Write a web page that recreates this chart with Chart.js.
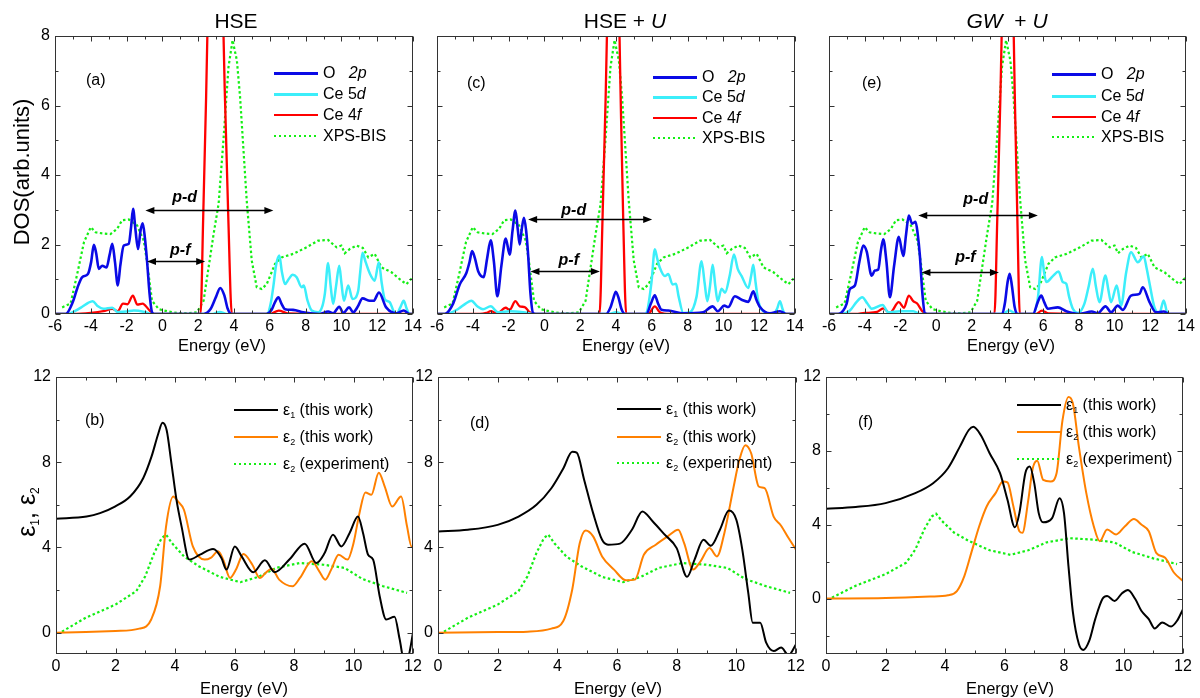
<!DOCTYPE html>
<html lang="en">
<head>
<meta charset="UTF-8">
<title>CeO2: DOS and dielectric function</title>
<script src="https://cdn.jsdelivr.net/npm/chart.js"></script>
<style>
    body { margin: 0; background: #fff; font-family: "Liberation Sans", Arial, sans-serif; }
    #fig { position: relative; width: 1200px; height: 698px; overflow: hidden; }
    #fig canvas { position: absolute; left: 0; top: 0; }
    .t { position: absolute; white-space: nowrap; color: #000; line-height: 1; z-index: 2; }
    .c { transform: translateX(-50%); }
    .rot { transform: translate(-50%, -50%) rotate(-90deg); }
    .lg { position: absolute; height: 18px; line-height: 18px; font-size: 16px; white-space: nowrap; z-index: 2; }
    .lg span.s { position: absolute; left: 0; top: 8px; width: 44px; }
    .lg span.x { position: absolute; left: 49px; top: 0; }
    sub { font-size: 9px; vertical-align: -3px; }
    .big sub { font-size: 12px; vertical-align: -4px; }
</style>
</head>
<body>
<div id="fig">
    <canvas id="pa" width="1200" height="698"></canvas>
    <canvas id="pc" width="1200" height="698"></canvas>
    <canvas id="pe" width="1200" height="698"></canvas>
    <canvas id="pb" width="1200" height="698"></canvas>
    <canvas id="pd" width="1200" height="698"></canvas>
    <canvas id="pf" width="1200" height="698"></canvas>

    <div class="t c" style="left:236px;top:10px;font-size:21px">HSE</div>
    <div class="t c" style="left:625px;top:10px;font-size:21px">HSE + <i>U</i></div>
    <div class="t c" style="left:1007px;top:10px;font-size:21px"><i>GW</i>&nbsp; + <i>U</i></div>

    <div class="t rot" style="left:22px;top:172px;font-size:22px">DOS(arb.units)</div>
    <div class="t rot big" style="left:27px;top:512px;font-size:25px">ε<sub>1</sub>, ε<sub>2</sub></div>

    <div class="t c" style="left:222px;top:337px;font-size:16.5px">Energy (eV)</div>
    <div class="t c" style="left:626px;top:337px;font-size:16.5px">Energy (eV)</div>
    <div class="t c" style="left:1011px;top:337px;font-size:16.5px">Energy (eV)</div>
    <div class="t c" style="left:244px;top:680px;font-size:16.5px">Energy (eV)</div>
    <div class="t c" style="left:618px;top:680px;font-size:16.5px">Energy (eV)</div>
    <div class="t c" style="left:1010px;top:680px;font-size:16.5px">Energy (eV)</div>

    <div class="t" style="left:86px;top:72px;font-size:16px">(a)</div>
    <div class="t" style="left:467px;top:75px;font-size:16px">(c)</div>
    <div class="t" style="left:862px;top:75px;font-size:16px">(e)</div>
    <div class="t" style="left:85px;top:412px;font-size:16px">(b)</div>
    <div class="t" style="left:470px;top:415px;font-size:16px">(d)</div>
    <div class="t" style="left:858px;top:414px;font-size:16px">(f)</div>
</div>

<script>
    const W = 1200, H = 698, YW = 40, XH = 30;
    const FONT = '"Liberation Sans", Arial, sans-serif';
    const COL = { o2p: '#0a0ae6', ce5d: '#3ceefa', ce4f: '#ff0000', xps: '#14ee14',
                  eps1: '#000000', eps2: '#ff8000', exp: '#14ee14' };

    // tick labels
    const xTicksDos = [-6, -4, -2, 0, 2, 4, 6, 8, 10, 12, 14];
    const yTicksDos = [0, 2, 4, 6, 8];
    const xTicksEps = [0, 2, 4, 6, 8, 10, 12];
    const yTicksEps = [0, 4, 8, 12];

    // experiment, same in all three panels of a row
    const xpsBis = [[-5.6,0.19],[-5.13,0.3],[-4.76,1.15],[-4.38,2.07],[-4.0,2.5],[-3.73,2.35],[-3.36,2.32],[-2.9,2.3],
        [-2.53,2.45],[-2.25,2.7],[-1.88,2.72],[-1.41,2.55],[-1.04,2.11],[-0.86,1.5],[-0.58,0.38],[-0.2,0.14],[0.26,0.08],
        [0.8,0.03],[1.37,0.02],[1.93,0.05],[2.3,0.38],[2.58,1.34],[2.86,2.3],[3.14,3.17],[3.41,5.0],[3.69,7.1],[3.92,7.88],
        [4.16,7.3],[4.34,6.24],[4.71,3.27],[4.99,1.54],[5.27,0.77],[5.55,0.72],[5.83,0.86],[6.29,1.44],[6.66,1.63],
        [7.31,1.73],[8.06,1.92],[8.7,2.11],[9.26,2.13],[9.73,1.92],[10.0,1.97],[10.19,1.75],[10.47,1.87],[10.84,1.97],
        [11.2,1.9],[11.5,1.63],[11.86,1.73],[12.24,1.34],[12.8,1.2],[13.26,1.0],[13.63,0.86],[14.0,1.06]];
    const eps2Exp = [[0.2,0.05],[1,0.7],[2,1.32],[2.7,1.95],[3.0,2.65],[3.3,3.74],[3.55,4.44],[3.7,4.6],[3.9,4.2],
        [4.3,3.58],[4.8,3.12],[5.5,2.62],[6.2,2.37],[6.8,2.62],[7.4,3.04],[8.2,3.27],[9.0,3.19],[9.7,3.04],[10.3,2.52],
        [11.0,2.18],[11.8,1.87]];

    // (a) HSE
    const aO2p = [[-6,0],[-5.4,0],[-5.0,0.35],[-4.75,0.75],[-4.48,1.06],[-4.16,1.15],[-3.98,1.5],[-3.83,1.99],[-3.7,1.75],
        [-3.55,1.3],[-3.36,1.39],[-3.12,1.34],[-2.95,1.7],[-2.8,2.02],[-2.65,1.5],[-2.49,0.82],[-2.35,1.4],[-2.16,1.97],
        [-1.88,2.02],[-1.75,2.5],[-1.64,3.03],[-1.5,2.4],[-1.36,1.87],[-1.22,2.4],[-1.1,2.61],[-0.98,2.2],[-0.86,1.54],
        [-0.72,0.6],[-0.58,0.05],[-0.45,0],[2.3,0],[2.7,0.15],[3.0,0.5],[3.23,0.75],[3.45,0.55],[3.65,0.15],[3.85,0],
        [5.8,0],[6.1,0.12],[6.3,0.35],[6.48,0.48],[6.65,0.3],[6.85,0.14],[7.3,0.12],[7.87,0.05],[8.4,0.01],[8.8,0],
        [9.26,0.07],[9.54,0.02],[9.88,0.21],[10.1,0.03],[10.43,0.19],[10.66,0.05],[10.9,0.2],[11.18,0.45],[11.59,0.38],
        [11.8,0.38],[12.1,0.62],[12.5,0.19],[13.07,0.02],[13.48,0.1],[13.8,0],[14,0]];
    const aCe5d = [[-6,0],[-5.3,0],[-4.9,0.08],[-4.5,0.2],[-4.15,0.32],[-3.9,0.37],[-3.6,0.22],[-3.3,0.15],[-2.8,0.18],
        [-2.5,0.06],[-2.0,0.07],[-1.6,0.1],[-1.0,0.06],[-0.6,0],[2.8,0],[3.2,0.06],[3.6,0],[5.85,0],[6.05,0.3],[6.2,0.8],
        [6.35,1.4],[6.53,1.68],[6.68,1.2],[6.85,0.86],[7.05,1.0],[7.28,1.13],[7.5,1.06],[7.78,0.77],[7.9,0.82],[8.1,0.4],
        [8.34,0.1],[8.7,0.05],[8.95,0.25],[9.08,0.6],[9.26,1.47],[9.4,0.8],[9.54,0.29],[9.7,0.8],[9.88,1.39],[10.0,0.9],
        [10.14,0.38],[10.38,0.82],[10.62,0.43],[10.94,0.67],[11.05,1.2],[11.18,1.76],[11.35,1.5],[11.6,1.15],[11.86,0.96],
        [12.09,1.49],[12.25,0.9],[12.42,0.43],[12.7,0.34],[12.9,0.1],[13.07,0],[13.3,0.2],[13.48,0.38],[13.65,0.15],
        [13.8,0],[14,0]];
    const aCe4f = [[-6,0],[-5,0],[-4,0.03],[-3.3,0.08],[-2.8,0.15],[-2.5,0.08],[-2.2,0.3],[-1.95,0.28],[-1.65,0.53],
        [-1.4,0.27],[-1.1,0.3],[-0.8,0.15],[-0.5,0],[2.13,0],[2.28,2.8],[2.44,6.2],[2.62,10.5],[2.98,13],[3.3,10.5],
        [3.48,6.5],[3.68,2.8],[3.88,0],[6.0,0],[6.5,0.1],[7.0,0.02],[14,0]];

    // (c) HSE + U
    const cO2p = [[-6,0],[-5.57,0],[-5.1,0.3],[-4.73,0.85],[-4.36,1.18],[-4.18,1.5],[-4.04,1.81],[-3.88,1.6],[-3.7,1.23],
        [-3.39,1.06],[-3.2,1.6],[-3.0,2.12],[-2.82,1.5],[-2.63,0.51],[-2.4,1.4],[-2.16,2.17],[-1.94,1.71],[-1.78,2.4],
        [-1.62,2.98],[-1.48,2.4],[-1.38,2.0],[-1.25,2.5],[-1.14,2.77],[-1.02,2.4],[-0.91,1.71],[-0.78,0.6],[-0.63,0.02],
        [-0.5,0],[3.45,0],[3.7,0.2],[3.85,0.45],[3.99,0.64],[4.15,0.45],[4.3,0.15],[4.5,0],[5.7,0],[5.95,0.3],[6.17,0.54],
        [6.35,0.3],[6.54,0.12],[6.92,0.1],[7.76,0.02],[8.87,0.05],[9.4,0.22],[9.68,0.08],[10.05,0.24],[10.27,0.2],
        [10.64,0.51],[11.02,0.41],[11.39,0.35],[11.67,0.65],[11.85,0.4],[12.04,0.2],[12.6,0.02],[13.16,0.08],[13.53,0],[14,0]];
    const cCe5d = [[-6,0],[-5.5,0],[-4.8,0.15],[-4.4,0.3],[-4.08,0.38],[-3.75,0.22],[-3.43,0.14],[-3.0,0.22],[-2.6,0.05],
        [-1.94,0.08],[-1.19,0.05],[-0.6,0],[3.6,0],[4.0,0.05],[4.4,0],[5.6,0],[5.75,0.1],[5.98,0.9],[6.17,1.86],[6.3,1.6],
        [6.45,1.33],[6.73,1.09],[6.92,1.15],[7.16,0.85],[7.35,0.87],[7.5,0.5],[7.76,0.03],[8.13,0.05],[8.5,0.5],[8.78,1.52],
        [8.95,0.9],[9.1,0.37],[9.25,0.8],[9.4,1.42],[9.55,0.8],[9.68,0.37],[9.9,0.73],[10.09,0.61],[10.35,1.1],[10.59,1.71],
        [10.8,1.3],[11.02,1.09],[11.39,0.75],[11.55,1.1],[11.67,1.42],[11.8,0.9],[11.95,0.37],[12.32,0.05],[12.79,0],
        [13.0,0.15],[13.16,0.37],[13.3,0.15],[13.44,0],[14,0]];
    const cCe4f = [[-6,0],[-3.6,0],[-3.24,0.03],[-3.0,0.08],[-2.63,0.02],[-2.16,0.18],[-1.94,0.12],[-1.62,0.37],
        [-1.38,0.22],[-1.1,0.2],[-0.82,0.05],[-0.6,0],[3.08,0],[3.25,2.8],[3.42,6.2],[3.6,10.5],[3.85,13],[4.1,10.5],
        [4.25,6.5],[4.4,2.8],[4.57,0],[5.8,0],[6.17,0.22],[6.45,0.05],[7,0],[14,0]];

    // (e) GW + U
    const eO2p = [[-6,0],[-5.48,0],[-5.2,0.1],[-5.01,0.3],[-4.83,0.72],[-4.55,0.82],[-4.3,1.5],[-4.08,1.97],[-3.89,1.8],
        [-3.61,1.1],[-3.43,1.25],[-3.24,1.28],[-3.1,1.8],[-2.96,2.15],[-2.78,1.5],[-2.59,0.48],[-2.35,1.4],[-2.09,2.22],
        [-1.84,1.67],[-1.68,2.3],[-1.53,2.83],[-1.34,2.6],[-1.15,2.65],[-1.03,2.3],[-0.91,1.69],[-0.77,0.6],[-0.63,0.02],
        [-0.5,0],[3.7,0],[3.85,0.3],[4.0,0.9],[4.12,1.16],[4.25,0.8],[4.4,0.2],[4.55,0],[5.43,0],[5.7,0.35],[5.89,0.53],
        [6.05,0.35],[6.26,0.15],[6.82,0.19],[7.29,0.08],[8.03,0],[8.72,0.07],[9.06,0.02],[9.49,0.22],[9.8,0.05],
        [10.18,0.24],[10.46,0.12],[10.92,0.53],[11.39,0.58],[11.58,0.77],[11.95,0.35],[12.32,0.05],[12.75,0.07],[13.07,0],[14,0]];
    const eCe5d = [[-6,0],[-5.29,0],[-4.83,0.1],[-4.45,0.35],[-4.14,0.48],[-3.85,0.3],[-3.61,0.15],[-3.0,0.26],
        [-2.68,0.05],[-2.03,0.08],[-1.28,0.08],[-0.91,0],[3.7,0],[4.1,0.1],[4.5,0],[5.43,0],[5.71,0.5],[5.93,1.64],
        [6.05,1.2],[6.17,0.92],[6.54,1.09],[6.86,1.22],[7.1,0.92],[7.29,0.87],[7.45,0.5],[7.66,0.15],[7.94,0.03],[8.31,0.3],
        [8.55,0.8],[8.78,1.3],[8.95,0.8],[9.15,0.34],[9.49,1.11],[9.65,0.7],[9.8,0.34],[10.12,0.82],[10.36,0.24],[10.65,1.2],
        [10.92,1.78],[11.3,1.49],[11.63,1.66],[11.8,1.3],[11.95,0.9],[12.23,0.2],[12.51,0.02],[12.75,0.39],[12.98,0],[14,0]];
    const eCe4f = [[-6,0],[-4.5,0],[-4.0,0.03],[-3.3,0.06],[-2.96,0.16],[-2.59,0.03],[-2.09,0.34],[-1.8,0.18],
        [-1.53,0.53],[-1.28,0.37],[-1.06,0.3],[-0.73,0.05],[-0.5,0],[3.27,0],[3.43,2.8],[3.6,6.2],[3.78,10.5],[4.02,13],
        [4.26,10.5],[4.4,6.5],[4.55,2.8],[4.69,0],[5.6,0],[5.93,0.1],[6.3,0.02],[14,0]];

    // p-d / p-f gap arrows (energy from, energy to, height; label centre)
    const arrowsA = [{ label: 'p-d', y: 3.0, from: -0.95, to: 6.2, lx: 1.24, ly: 3.36 },
                     { label: 'p-f', y: 1.52, from: -0.86, to: 2.39, lx: 1.0, ly: 1.83 }];
    const arrowsC = [{ label: 'p-d', y: 2.72, from: -0.91, to: 6.02, lx: 1.64, ly: 2.98 },
                     { label: 'p-f', y: 1.25, from: -0.78, to: 3.1, lx: 1.36, ly: 1.54 }];
    const arrowsE = [{ label: 'p-d', y: 2.86, from: -1.0, to: 5.7, lx: 2.22, ly: 3.28 },
                     { label: 'p-f', y: 1.2, from: -0.82, to: 3.52, lx: 1.64, ly: 1.61 }];

    // (b) HSE
    const bEps1 = [[0,5.35],[1.03,5.45],[1.48,5.61],[1.98,5.92],[2.49,6.39],[2.93,7.25],[3.21,8.26],[3.44,9.35],[3.58,9.85],
        [3.72,9.5],[3.88,7.95],[4.05,6.23],[4.22,4.99],[4.48,3.43],[4.84,3.66],[5.28,3.93],[5.56,3.51],[5.73,2.96],
        [6.01,4.05],[6.24,3.58],[6.63,2.84],[7.02,3.4],[7.35,2.84],[7.86,3.46],[8.36,4.18],[8.75,3.27],[9.03,3.74],
        [9.31,4.6],[9.59,4.05],[9.87,4.68],[10.15,5.45],[10.32,4.68],[10.49,3.66],[10.66,3.43],[10.88,1.71],[11.1,0.62],
        [11.38,0.75],[11.55,-0.3],[11.7,-1.3],[11.85,-1.1],[12,0]];
    const bEps2 = [[0,0],[1,0.03],[2,0.08],[2.8,0.19],[3.2,0.62],[3.5,2.18],[3.7,4.99],[3.94,6.39],[4.1,6.16],[4.3,5.77],
        [4.6,4.05],[5.0,3.43],[5.2,3.51],[5.45,3.82],[5.62,3.43],[5.85,2.57],[6.05,2.96],[6.3,3.69],[6.6,3.19],[6.85,2.57],
        [7.05,2.81],[7.25,3.0],[7.5,2.49],[7.95,2.18],[8.2,2.57],[8.6,3.35],[8.85,2.88],[9.05,2.49],[9.25,2.96],[9.5,3.66],
        [9.8,3.43],[10.0,4.2],[10.2,5.61],[10.4,6.58],[10.6,6.47],[10.85,7.51],[11.05,6.86],[11.3,5.92],[11.6,6.39],
        [11.8,4.99],[11.95,4.05],[12,4.05]];

    // (d) HSE + U
    const dEps1 = [[0,4.75],[1,4.83],[2,5.06],[2.7,5.45],[3.3,6.0],[3.8,6.78],[4.2,7.71],[4.5,8.49],[4.65,8.45],[4.9,7.17],
        [5.2,5.61],[5.5,4.36],[5.7,4.13],[6.1,4.18],[6.5,4.83],[6.85,5.69],[7.2,5.22],[7.6,4.6],[8.0,3.97],[8.35,2.62],
        [8.6,3.43],[8.9,4.36],[9.15,4.08],[9.45,4.83],[9.75,5.73],[10.0,5.3],[10.2,3.9],[10.4,1.87],[10.55,0.47],[10.8,0.47],
        [11.0,-0.47],[11.25,-0.86],[11.5,-0.7],[11.75,-1.05],[12,-0.55]];
    const dEps2 = [[0,0],[2,0.03],[3,0.05],[3.8,0.19],[4.2,0.55],[4.5,2.03],[4.75,4.2],[4.95,4.8],[5.2,4.52],[5.5,3.58],
        [5.9,2.96],[6.3,2.46],[6.6,2.49],[6.9,3.66],[7.3,4.13],[7.7,4.52],[8.05,4.83],[8.25,4.2],[8.55,2.96],[8.8,3.35],
        [9.1,3.97],[9.35,3.58],[9.6,4.68],[9.9,6.78],[10.1,8.1],[10.3,8.8],[10.5,8.41],[10.75,6.86],[10.95,6.78],
        [11.25,5.45],[11.5,5.02],[11.75,4.44],[12,3.9]];

    // (f) GW + U
    const fEps1 = [[0,4.87],[1,4.96],[2,5.17],[3,5.71],[3.6,6.25],[4.1,7.06],[4.5,8.23],[4.8,9.13],[4.95,9.3],[5.2,8.86],
        [5.5,7.87],[5.85,6.79],[6.1,5.35],[6.35,3.86],[6.5,4.63],[6.7,6.79],[6.85,7.15],[7.0,6.25],[7.15,4.63],[7.3,4.13],
        [7.6,4.36],[7.85,5.44],[8.0,4.63],[8.15,1.76],[8.3,-0.75],[8.5,-2.46],[8.65,-2.78],[8.85,-2.28],[9.05,-1.11],
        [9.3,0],[9.45,0.14],[9.7,-0.13],[9.95,0.29],[10.15,0.47],[10.4,-0.04],[10.6,-0.66],[10.85,-1.11],[11.05,-1.62],
        [11.3,-1.29],[11.6,-1.51],[11.8,-1.2],[12,-0.57]];
    const fEps2 = [[0,0],[2,0.03],[3.5,0.11],[4.1,0.18],[4.4,0.41],[4.65,1.22],[4.9,2.57],[5.15,3.92],[5.4,4.99],
        [5.7,5.71],[5.95,6.34],[6.1,6.29],[6.3,4.99],[6.5,3.65],[6.6,3.56],[6.8,5.35],[6.95,7.06],[7.1,7.47],[7.3,6.43],
        [7.55,6.34],[7.75,6.79],[7.95,9.66],[8.15,10.92],[8.3,10.56],[8.5,8.23],[8.75,5.71],[9.0,3.92],[9.2,3.11],
        [9.45,3.74],[9.75,3.47],[10.05,3.92],[10.35,4.31],[10.6,4.01],[10.85,3.65],[11.1,2.48],[11.4,2.21],[11.7,1.4],[12,0.95]];

    const legendDos = [['o2p', 'O&nbsp;&nbsp;&nbsp;<i>2p</i>'], ['ce5d', 'Ce 5<i>d</i>'], ['ce4f', 'Ce 4<i>f</i>'], ['xps', 'XPS-BIS']];
    const legendEps = [['eps1', 'ε<sub>1</sub> (this work)'], ['eps2', 'ε<sub>2</sub> (this work)'], ['exp', 'ε<sub>2</sub> (experiment)']];

    function series(pts, key, width, dotted) {
        return {
            data: pts.map(p => ({ x: p[0], y: p[1] })),
            borderColor: COL[key], borderWidth: width,
            borderDash: dotted ? [2.5, 2.5] : [],
            pointRadius: 0, fill: false,
            tension: dotted ? 0 : 0.4,
            cubicInterpolationMode: dotted ? 'default' : 'monotone'
        };
    }

    // box frame with inward ticks on all four sides, plus the gap arrows
    const frame = {
        id: 'frame',
        afterDraw(chart, args, o) {
            const ctx = chart.ctx, a = chart.chartArea, sx = chart.scales.x, sy = chart.scales.y;
            ctx.save();
            ctx.strokeStyle = '#333';
            ctx.lineWidth = 1;
            const L = Math.round(a.left) + 0.5, T = Math.round(a.top) + 0.5;
            const R = Math.round(a.right) - 0.5, B = Math.round(a.bottom) - 0.5;
            ctx.strokeRect(L, T, R - L, B - T);
            ctx.beginPath();
            for (let v = Math.ceil(sx.min / o.xMinor) * o.xMinor; v <= sx.max + 1e-9; v += o.xMinor) {
                const p = Math.round(sx.getPixelForValue(v)) + 0.5;
                const len = Math.abs(v % o.xMajor) < 1e-9 ? 5 : 3;
                ctx.moveTo(p, B); ctx.lineTo(p, B - len);
                ctx.moveTo(p, T); ctx.lineTo(p, T + len);
            }
            for (let v = Math.ceil(sy.min / o.yMinor) * o.yMinor; v <= sy.max + 1e-9; v += o.yMinor) {
                const p = Math.round(sy.getPixelForValue(v)) + 0.5;
                const len = Math.abs(v % o.yMajor) < 1e-9 ? 5 : 3;
                ctx.moveTo(L, p); ctx.lineTo(L + len, p);
                ctx.moveTo(R, p); ctx.lineTo(R - len, p);
            }
            ctx.stroke();

            ctx.strokeStyle = '#000';
            ctx.fillStyle = '#000';
            ctx.lineWidth = 1.4;
            (o.arrows || []).forEach(ar => {
                const x0 = sx.getPixelForValue(ar.from), x1 = sx.getPixelForValue(ar.to);
                const y = Math.round(sy.getPixelForValue(ar.y)) + 0.5;
                ctx.beginPath();
                ctx.moveTo(x0 + 6, y); ctx.lineTo(x1 - 6, y);
                ctx.stroke();
                [[x0, 1], [x1, -1]].forEach(([x, d]) => {
                    ctx.beginPath();
                    ctx.moveTo(x, y);
                    ctx.lineTo(x + d * 9, y - 3.5);
                    ctx.lineTo(x + d * 9, y + 3.5);
                    ctx.closePath();
                    ctx.fill();
                });
                ctx.font = 'italic bold 16px ' + FONT;
                ctx.textAlign = 'center';
                ctx.textBaseline = 'middle';
                ctx.fillText(ar.label, sx.getPixelForValue(ar.lx), sy.getPixelForValue(ar.ly));
            });
            ctx.restore();
        }
    };

    function makePanel(p) {
        const b = p.box;
        const tickFont = { family: FONT, size: 16 };
        new Chart(document.getElementById(p.id), {
            type: 'line',
            data: { datasets: p.datasets },
            options: {
                responsive: false, animation: false, events: [],
                layout: { padding: { left: b.l - YW, top: b.t, right: W - b.r, bottom: H - b.b - XH } },
                plugins: {
                    legend: { display: false }, tooltip: { enabled: false },
                    frame: { xMinor: 1, xMajor: 2, yMinor: p.yMinor, yMajor: p.yMajor, arrows: p.arrows }
                },
                scales: {
                    x: {
                        type: 'linear', min: p.xTicks[0], max: p.xTicks[p.xTicks.length - 1],
                        afterBuildTicks: s => { s.ticks = p.xTicks.map(v => ({ value: v })); },
                        afterFit: s => { s.height = XH; },
                        grid: { display: false, drawTicks: false }, border: { display: false },
                        ticks: { color: '#000', font: tickFont, padding: 3, maxRotation: 0, autoSkip: false,
                                 callback: v => String(v) }
                    },
                    y: {
                        type: 'linear', min: p.yMin, max: p.yMax,
                        afterBuildTicks: s => { s.ticks = p.yTicks.map(v => ({ value: v })); },
                        afterFit: s => { s.width = YW; },
                        grid: { display: false, drawTicks: false }, border: { display: false },
                        ticks: { display: p.showY, color: '#000', font: tickFont, padding: 5,
                                 callback: v => String(v) }
                    }
                }
            },
            plugins: [frame]
        });
    }

    function dosSets(o2p, ce5d, ce4f) {
        return [series(o2p, 'o2p', 2.6), series(ce5d, 'ce5d', 2.5), series(ce4f, 'ce4f', 2.3), series(xpsBis, 'xps', 2.2, true)];
    }
    function epsSets(e1, e2) {
        return [series(e1, 'eps1', 2), series(e2, 'eps2', 2), series(eps2Exp, 'exp', 2.2, true)];
    }

    const panels = [
        { id: 'pa', box: { l: 55, t: 36, r: 413, b: 314 }, datasets: dosSets(aO2p, aCe5d, aCe4f), arrows: arrowsA,
          xTicks: xTicksDos, yTicks: yTicksDos, yMin: 0, yMax: 8, yMinor: 1, yMajor: 2, showY: true,
          legend: legendDos, lx: 274, rows: [73, 94, 115, 136] },
        { id: 'pc', box: { l: 437, t: 36, r: 795, b: 314 }, datasets: dosSets(cO2p, cCe5d, cCe4f), arrows: arrowsC,
          xTicks: xTicksDos, yTicks: yTicksDos, yMin: 0, yMax: 8, yMinor: 1, yMajor: 2, showY: false,
          legend: legendDos, lx: 653, rows: [77, 97, 118, 138] },
        { id: 'pe', box: { l: 829, t: 36, r: 1186, b: 314 }, datasets: dosSets(eO2p, eCe5d, eCe4f), arrows: arrowsE,
          xTicks: xTicksDos, yTicks: yTicksDos, yMin: 0, yMax: 8, yMinor: 1, yMajor: 2, showY: false,
          legend: legendDos, lx: 1052, rows: [74, 96, 117, 137] },
        { id: 'pb', box: { l: 56, t: 377, r: 413, b: 654 }, datasets: epsSets(bEps1, bEps2),
          xTicks: xTicksEps, yTicks: yTicksEps, yMin: -1, yMax: 12, yMinor: 2, yMajor: 4, showY: true,
          legend: legendEps, lx: 234, rows: [410, 437, 464] },
        { id: 'pd', box: { l: 438, t: 377, r: 796, b: 654 }, datasets: epsSets(dEps1, dEps2),
          xTicks: xTicksEps, yTicks: yTicksEps, yMin: -1, yMax: 12, yMinor: 2, yMajor: 4, showY: true,
          legend: legendEps, lx: 617, rows: [409, 437, 463] },
        { id: 'pf', box: { l: 826, t: 377, r: 1183, b: 654 }, datasets: epsSets(fEps1, fEps2),
          xTicks: xTicksEps, yTicks: yTicksEps, yMin: -3, yMax: 12, yMinor: 2, yMajor: 4, showY: true,
          legend: legendEps, lx: 1017, rows: [405, 432, 459] }
    ];

    const fig = document.getElementById('fig');
    panels.forEach(p => {
        makePanel(p);
        // legend: sample line styled like its dataset + label
        p.legend.forEach(([key, label], i) => {
            const ds = p.datasets[i];
            const row = document.createElement('div');
            row.className = 'lg';
            row.style.left = p.lx + 'px';
            row.style.top = (p.rows[i] - 9) + 'px';
            const s = document.createElement('span');
            s.className = 's';
            s.style.height = Math.round(ds.borderWidth) + 'px';
            s.style.background = ds.borderDash.length
                ? `repeating-linear-gradient(90deg, ${COL[key]} 0 2.5px, transparent 2.5px 5px)`
                : COL[key];
            const x = document.createElement('span');
            x.className = 'x';
            x.innerHTML = label;
            row.appendChild(s);
            row.appendChild(x);
            fig.appendChild(row);
        });
    });
</script>
</body>
</html>
